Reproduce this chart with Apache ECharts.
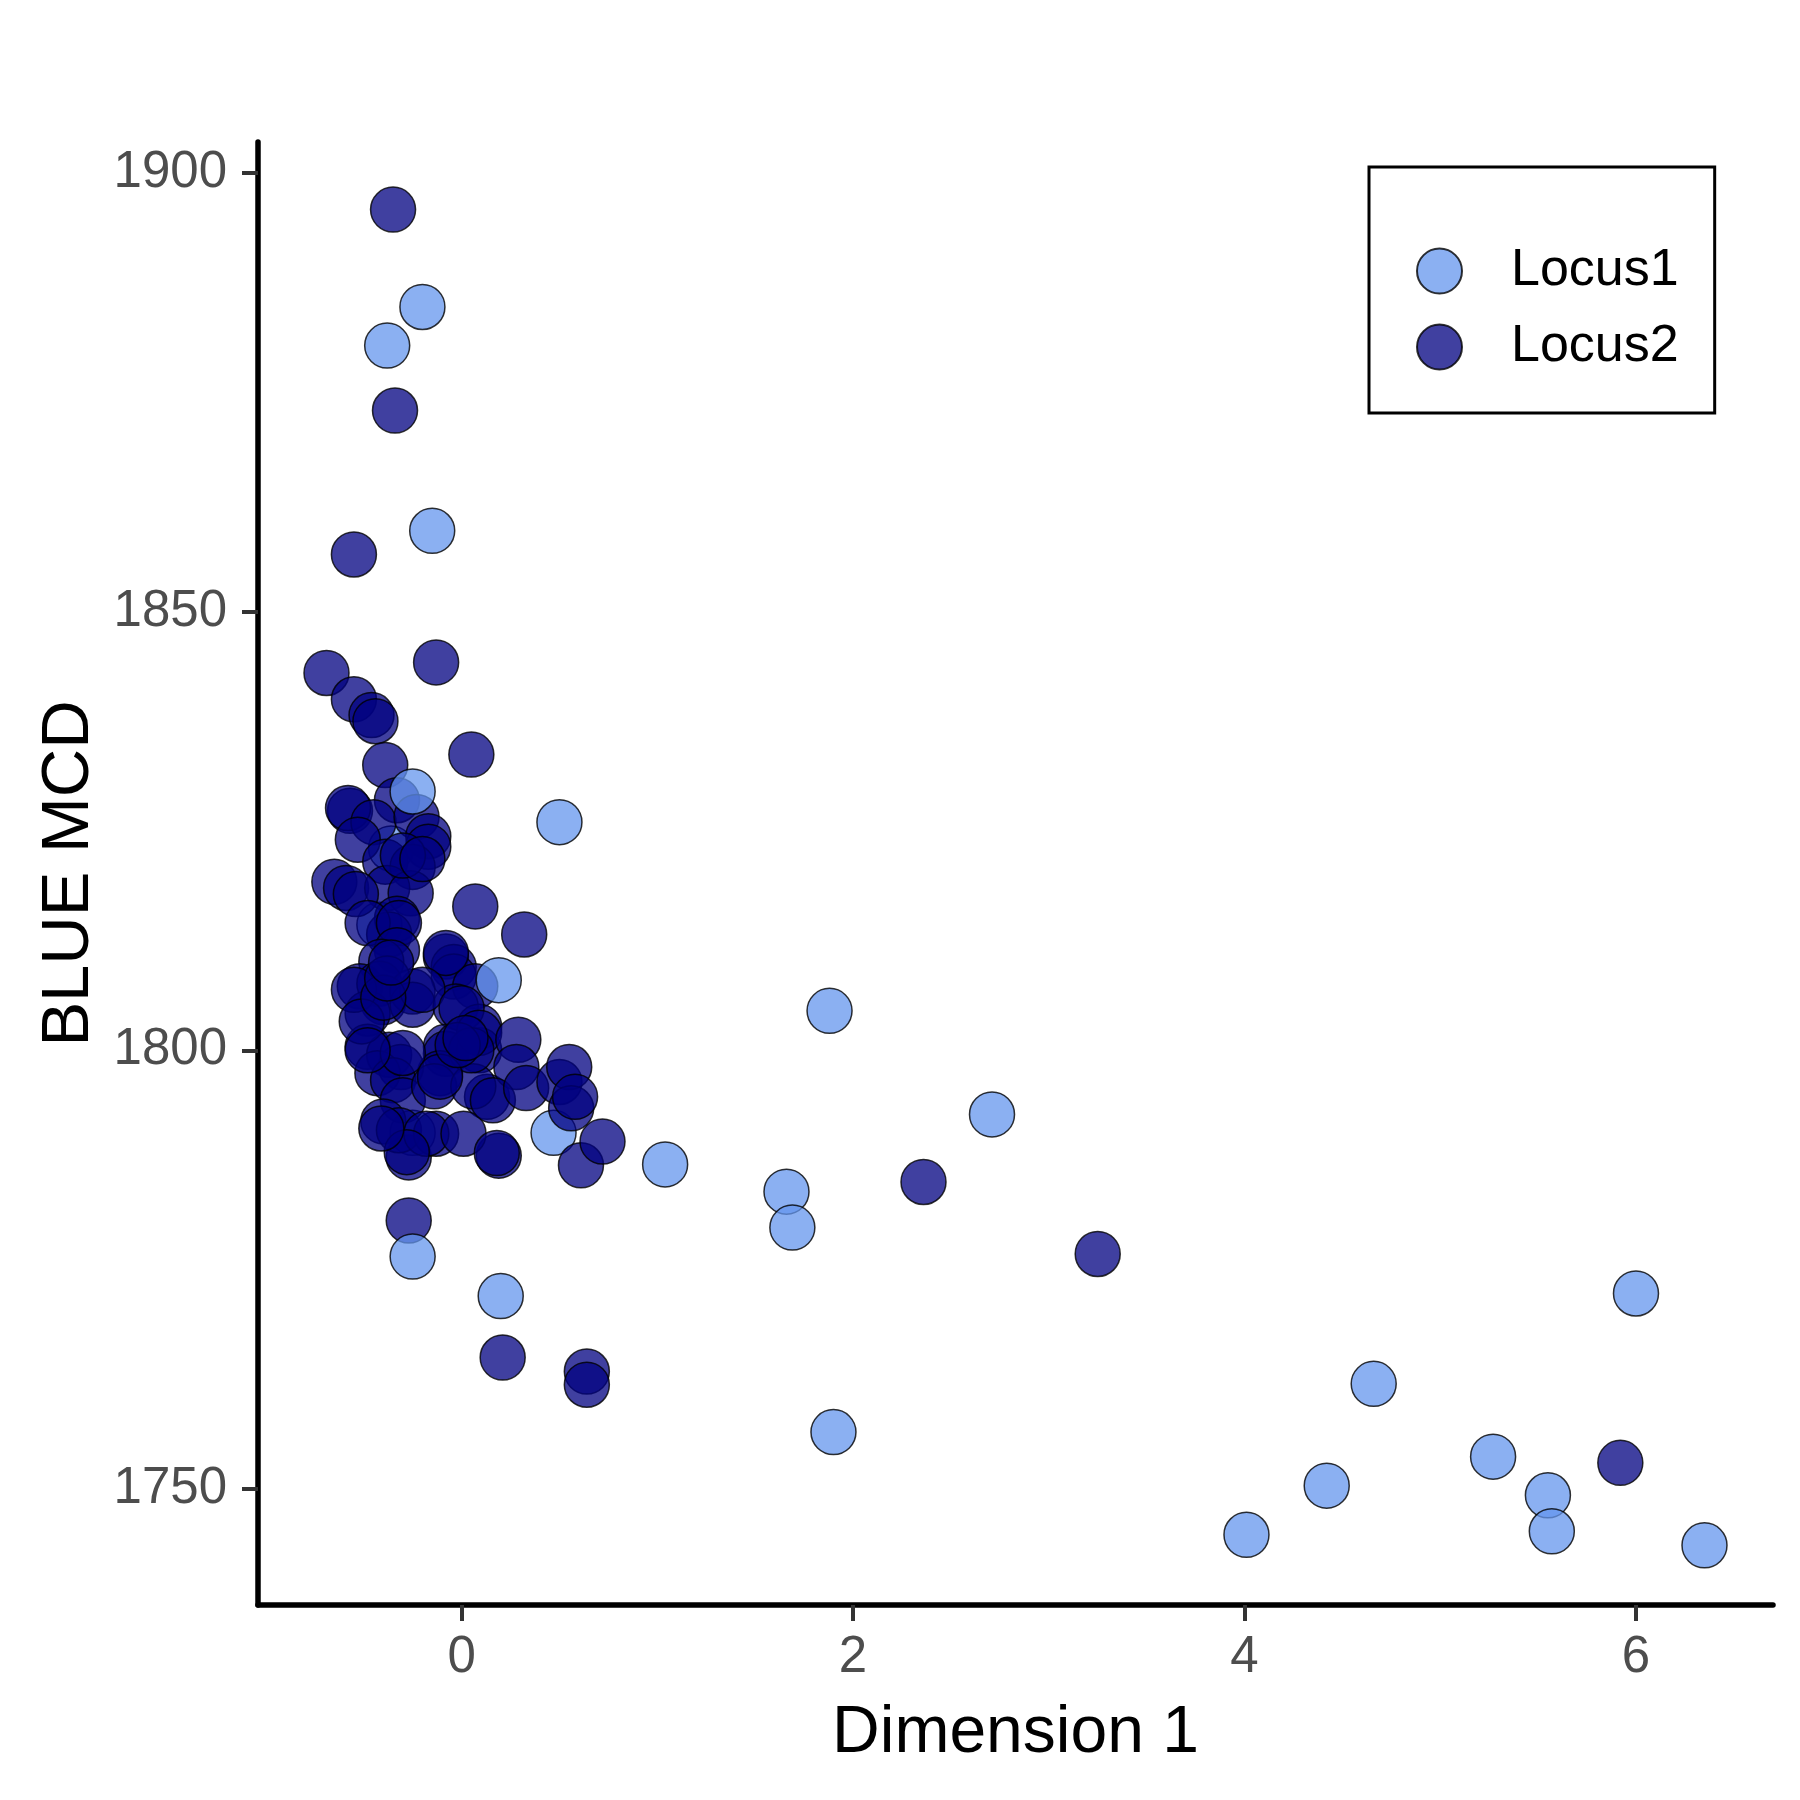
<!DOCTYPE html>
<html>
<head>
<meta charset="utf-8">
<script src="https://cdn.jsdelivr.net/npm/echarts@6/dist/echarts.min.js"></script>
<style>
  html, body { margin: 0; padding: 0; background: #fff; }
  #chart { width: 1800px; height: 1800px; }
</style>
</head>
<body>
<div id="chart"></div>
<script>
// tick values
const xTicks = [0, 2, 4, 6];
const yTicks = [1750, 1800, 1850, 1900];

// Locus1 points drawn under the Locus2 cloud
const locus1Back = [
  [-0.36, 1823.0], [-0.42, 1814.3], [-0.25, 1790.6], [0.47, 1790.6]
];

// Locus2 points [Dimension 1, BLUE MCD]
const locus2 = [
  [-0.35, 1895.8], [-0.34, 1872.9], [-0.55, 1856.5], [-0.69, 1843.0], [-0.13, 1844.2],
  [-0.55, 1840.0], [-0.46, 1838.2], [-0.44, 1837.5], [0.05, 1833.7], [-0.39, 1832.5],
  [0.07, 1816.4], [0.32, 1813.2], [2.36, 1785.0], [3.25, 1776.8], [5.92, 1753.0],
  [0.21, 1765.0], [0.64, 1763.4], [0.64, 1761.9], [-0.27, 1780.6], [-0.27, 1787.8],
  [0.19, 1788.0], [0.61, 1786.9], [0.72, 1789.6],
  [-0.33, 1828.5], [-0.57, 1827.3], [-0.58, 1827.6], [-0.45, 1826.0], [-0.23, 1826.6],
  [-0.53, 1824.0], [-0.17, 1824.4], [-0.17, 1823.2], [-0.39, 1821.5], [-0.25, 1820.9],
  [-0.65, 1819.2], [-0.59, 1818.5], [-0.38, 1818.5], [-0.26, 1817.9], [-0.54, 1817.8],
  [-0.33, 1815.0], [-0.37, 1813.2],
  [-0.48, 1814.5], [-0.32, 1814.5], [-0.33, 1811.4], [-0.41, 1810.1], [-0.08, 1810.7],
  [-0.04, 1809.5], [-0.04, 1808.4], [0.07, 1807.3], [-0.52, 1807.3], [-0.42, 1807.6],
  [-0.40, 1805.5], [-0.25, 1806.7], [-0.25, 1805.2], [-0.48, 1804.2], [-0.03, 1805.0],
  [0.09, 1802.7], [-0.08, 1800.4], [-0.08, 1799.6], [-0.48, 1800.4], [-0.37, 1799.5],
  [0.09, 1800.0], [-0.11, 1797.4], [-0.31, 1798.1], [-0.43, 1797.4], [-0.35, 1796.6],
  [-0.30, 1794.3], [-0.14, 1795.9], [0.13, 1794.7], [0.06, 1795.9], [-0.40, 1791.9],
  [-0.32, 1790.9], [-0.13, 1790.5], [-0.18, 1790.5], [0.01, 1790.5], [-0.28, 1788.4],
  [0.18, 1788.3],
  [-0.08, 1811.1], [-0.20, 1806.9], [0.00, 1804.8], [0.09, 1802.0], [0.29, 1801.2],
  [-0.30, 1799.7], [0.05, 1800.0], [0.28, 1798.1], [-0.11, 1797.0], [0.16, 1794.3],
  [0.33, 1795.7], [0.50, 1796.4], [0.55, 1798.1], [0.56, 1793.4], [0.58, 1794.7],
  [-0.55, 1806.9], [-0.51, 1803.3], [-0.48, 1800.0], [-0.41, 1791.1],
  [-0.40, 1806.0], [-0.38, 1808.2], [-0.36, 1810.0], [-0.02, 1800.6], [0.02, 1801.4],
  [-0.30, 1822.2], [-0.20, 1821.8]
];

// Locus1 points drawn on top
const locus1Front = [
  [-0.20, 1884.7], [-0.38, 1880.3], [-0.15, 1859.2], [-0.25, 1829.5], [0.50, 1826.0],
  [0.19, 1808.0], [1.88, 1804.5], [2.71, 1792.7], [1.04, 1787.0], [1.66, 1783.9],
  [1.69, 1779.8], [-0.25, 1776.5], [0.20, 1772.0], [6.00, 1772.3], [4.66, 1762.0],
  [1.90, 1756.5], [5.27, 1753.7], [4.42, 1750.4], [5.55, 1749.3], [5.57, 1745.2],
  [4.01, 1744.8], [6.35, 1743.6]
];

const font = 'Liberation Sans, Arial, sans-serif';
// scatter defaults to opacity 0.8, so reset it and let the rgba alpha do the work
const locus1Style = { color: 'rgba(100,149,237,0.75)', borderColor: 'rgba(0,0,0,0.8)', borderWidth: 1.5, opacity: 1 };
const locus2Style = { color: 'rgba(0,0,128,0.75)', borderColor: 'rgba(0,0,0,0.8)', borderWidth: 1.5, opacity: 1 };

const chart = echarts.init(document.getElementById('chart'));

chart.setOption({
  animation: false,
  backgroundColor: '#fff',
  grid: { left: 258, top: 142, right: 27, bottom: 195 },
  legend: {
    data: ['Locus1', 'Locus2'],
    orient: 'vertical',
    left: 1369,
    top: 167,
    padding: [78, 36, 40, 47],
    itemWidth: 45,
    itemHeight: 45,
    itemGap: 24,
    icon: 'circle',
    borderColor: '#000',
    borderWidth: 3,
    textStyle: { fontSize: 52, color: '#000', fontFamily: font, padding: [0, 0, 0, 44] }
  },
  xAxis: {
    type: 'value',
    min: -1.04,
    max: 6.70,
    name: 'Dimension 1',
    nameLocation: 'middle',
    nameGap: 96,
    nameTextStyle: { fontSize: 66, color: '#000', fontFamily: font },
    axisLine: { show: true, onZero: false, lineStyle: { color: '#000', width: 5.5 } },
    axisTick: { show: true, length: 16, customValues: xTicks, lineStyle: { color: '#333', width: 4 } },
    axisLabel: { customValues: xTicks, fontSize: 51, color: '#4D4D4D', fontFamily: font, margin: 27,
      formatter: v => String(v) },
    splitLine: { show: false }
  },
  yAxis: {
    type: 'value',
    min: 1736.8,
    max: 1903.5,
    name: 'BLUE MCD',
    nameLocation: 'middle',
    nameGap: 154,
    nameTextStyle: { fontSize: 67, color: '#000', fontFamily: font },
    axisLine: { show: true, onZero: false, lineStyle: { color: '#000', width: 5.5 } },
    axisTick: { show: true, length: 16, customValues: yTicks, lineStyle: { color: '#333', width: 4 } },
    axisLabel: { customValues: yTicks, fontSize: 51, color: '#4D4D4D', fontFamily: font, margin: 31,
      formatter: v => String(v) },
    splitLine: { show: false }
  },
  series: [
    { name: 'Locus1', type: 'scatter', symbolSize: 45, data: locus1Back, itemStyle: locus1Style },
    { name: 'Locus2', type: 'scatter', symbolSize: 45, data: locus2, itemStyle: locus2Style },
    { name: 'Locus1', type: 'scatter', symbolSize: 45, data: locus1Front, itemStyle: locus1Style }
  ]
});
</script>
</body>
</html>
